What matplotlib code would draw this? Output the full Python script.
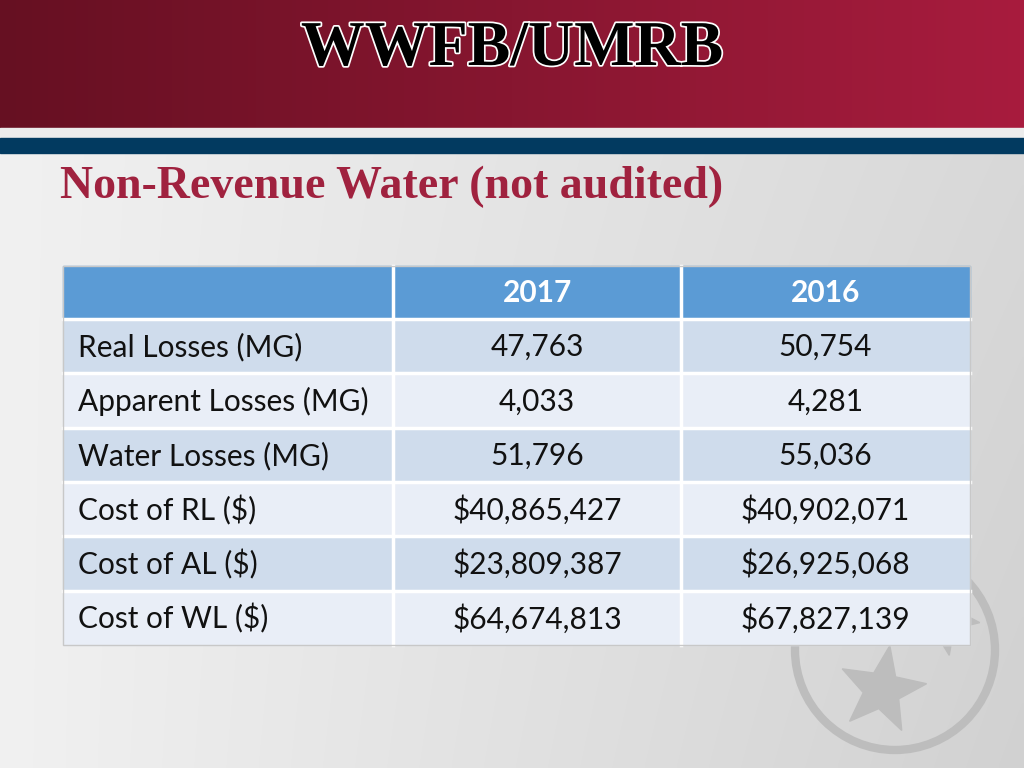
import numpy as np
import matplotlib
matplotlib.use("Agg")
import matplotlib.pyplot as plt
from matplotlib.patches import Rectangle, Circle, Polygon
import matplotlib.patheffects as pe

# ---- data ----
title = "WWFB/UMRB"
subtitle = "Non-Revenue Water (not audited)"
columns = ["2017", "2016"]
row_labels = ["Real Losses (MG)", "Apparent Losses (MG)", "Water Losses (MG)",
              "Cost of RL ($)", "Cost of AL ($)", "Cost of WL ($)"]
values_2017 = ["47,763", "4,033", "51,796", "$40,865,427", "$23,809,387", "$64,674,813"]
values_2016 = ["50,754", "4,281", "55,036", "$40,902,071", "$26,925,068", "$67,827,139"]

W, H = 1024, 768
fig = plt.figure(figsize=(W / 100, H / 100), dpi=100)
ax = fig.add_axes([0, 0, 1, 1])
ax.set_xlim(0, W)
ax.set_ylim(H, 0)
ax.axis("off")

# background gradient (light grey, darker to the right)
yy, xx = np.mgrid[0:H:4, 0:W:4]
fx, fy = xx / W, yy / H
g = 0.945 - 0.09 * fx - 0.035 * fx * fy
bg = np.dstack([g, g, g])
ax.imshow(bg, extent=[0, W, H, 0], aspect="auto", zorder=0, interpolation="bilinear")

# red banner gradient
c1 = np.array([0x66, 0x10, 0x22]) / 255
c2 = np.array([0xa8, 0x1c, 0x3e]) / 255
t = np.linspace(0, 1, 256)[None, :, None]
band = c1 + (c2 - c1) * t
ax.imshow(band, extent=[0, W, 128, 0], aspect="auto", zorder=1)
ax.add_patch(Rectangle((0, 128), W, 10, color="#ececec", zorder=1))
ax.add_patch(Rectangle((0, 138), W, 15, color="#023a60", zorder=1))

ax.text(512, 50, title, ha="center", va="center", fontsize=46, fontweight="bold",
        family="Liberation Serif", color="black", zorder=3,
        path_effects=[pe.withStroke(linewidth=2.5, foreground="white")])

ax.text(60, 187, subtitle, ha="left", va="center", fontsize=33, fontweight="bold",
        family="Liberation Serif", color="#a0223f", zorder=3)

# tristar watermark
wm = "#bdbdbd"
cx, cy, r = 895, 650, 100
ax.add_patch(Circle((cx, cy), r, fill=False, ec=wm, lw=6, zorder=1))
def star(x, y, rad, rot):
    pts = []
    for k in range(10):
        a = np.deg2rad(rot + k * 36 - 90)
        rr = rad if k % 2 == 0 else rad * 0.42
        pts.append((x + rr * np.cos(a), y + rr * np.sin(a)))
    ax.add_patch(Polygon(pts, closed=True, color=wm, zorder=1))
star(882, 690, 45, 10)
star(942, 618, 38, 25)
star(858, 590, 38, -5)

# table
x_edges = [63, 393, 681, 970]
y_top = 266
header_h = 53
row_h = 54.3
font = "Lato"
fs = 21.5
ax.add_patch(Rectangle((x_edges[0], y_top), x_edges[-1] - x_edges[0], header_h,
                       color="#5b9bd5", zorder=2))
for j, col in enumerate(columns):
    xc = (x_edges[j + 1] + x_edges[j + 2]) / 2
    ax.text(xc, y_top + header_h / 2 + 1, col, ha="center", va="center",
            fontsize=fs, fontweight="bold", color="white", family=font, zorder=4)

for i, lab in enumerate(row_labels):
    y0 = y_top + header_h + i * row_h
    color = "#cfdcec" if i % 2 == 0 else "#e9eef7"
    ax.add_patch(Rectangle((x_edges[0], y0), x_edges[-1] - x_edges[0], row_h,
                           color=color, zorder=2))
    ax.text(x_edges[0] + 15, y0 + row_h / 2 + 1, lab, ha="left", va="center",
            fontsize=fs, color="#111111", family=font, zorder=4)
    for j, vals in enumerate([values_2017, values_2016]):
        xc = (x_edges[j + 1] + x_edges[j + 2]) / 2
        ax.text(xc, y0 + row_h / 2 + 1, vals[i], ha="center", va="center",
                fontsize=fs, color="#111111", family=font, zorder=4)

# grid lines (white)
y_bottom = y_top + header_h + len(row_labels) * row_h
for xe in x_edges[1:-1]:
    ax.plot([xe, xe], [y_top, y_bottom], color="white", lw=2.5, zorder=3)
for i in range(len(row_labels)):
    yl = y_top + header_h + i * row_h
    ax.plot([x_edges[0], x_edges[-1]], [yl, yl], color="white", lw=2.5, zorder=3)
ax.add_patch(Rectangle((x_edges[0], y_top), x_edges[-1] - x_edges[0], y_bottom - y_top,
                       fill=False, ec="#c8c8c8", lw=1, zorder=3))

fig.savefig("out.png", dpi=100)
